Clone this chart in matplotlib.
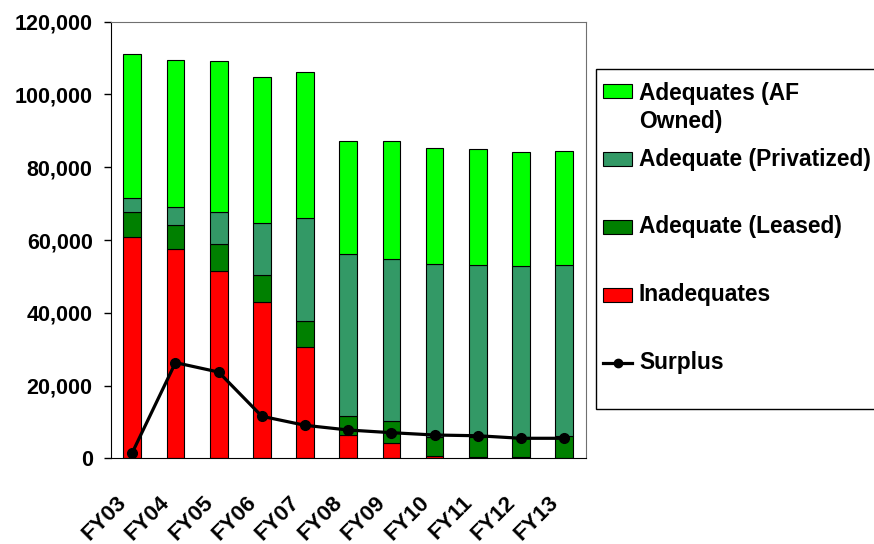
import matplotlib
matplotlib.use("Agg")
import matplotlib.pyplot as plt
import matplotlib.transforms as mtransforms
import numpy as np
from matplotlib.patches import Rectangle
from matplotlib.lines import Line2D
from matplotlib.ticker import FuncFormatter

# ---- data ----
years = ["FY03", "FY04", "FY05", "FY06", "FY07", "FY08", "FY09", "FY10", "FY11", "FY12", "FY13"]
inadequates = [60900, 57450, 51400, 43050, 30600, 6300, 4100, 500, 400, 400, 200]
adequate_leased = [6900, 6650, 7400, 7250, 7150, 5330, 6070, 5400, 5400, 5100, 5900]
adequate_privatized = [3750, 4900, 9000, 14500, 28250, 44520, 44530, 47600, 47300, 47360, 47000]
adequates_af_owned = [39550, 40600, 41500, 40100, 40100, 31150, 32600, 31700, 31800, 31240, 31300]
surplus = [1550, 26300, 23700, 11550, 9070, 7780, 7040, 6400, 6200, 5500, 5500]

labels = ["Adequates (AF\nOwned)", "Adequate (Privatized)", "Adequate (Leased)", "Inadequates", "Surplus"]
c_af = "#00FF00"
c_priv = "#339966"
c_leased = "#008000"
c_inad = "#FF0000"

plt.rcParams['font.family'] = ['Liberation Sans', 'DejaVu Sans']
plt.rcParams['font.weight'] = 'bold'

W, H = 874, 544
fig = plt.figure(figsize=(W / 100, H / 100), dpi=100)
ax = fig.add_axes([110.7 / W, 1 - 458.3 / H, (585.7 - 110.7) / W, (458.3 - 21.7) / H])

x = np.arange(len(years))
bw = 0.41
b1 = np.array(inadequates)
b2 = b1 + np.array(adequate_leased)
b3 = b2 + np.array(adequate_privatized)
ax.bar(x, inadequates, bw, color=c_inad, edgecolor="black", linewidth=0.8, zorder=2)
ax.bar(x, adequate_leased, bw, bottom=b1, color=c_leased, edgecolor="black", linewidth=0.8, zorder=2)
ax.bar(x, adequate_privatized, bw, bottom=b2, color=c_priv, edgecolor="black", linewidth=0.8, zorder=2)
ax.bar(x, adequates_af_owned, bw, bottom=b3, color=c_af, edgecolor="black", linewidth=0.8, zorder=2)
ax.plot(x, surplus, color="black", linewidth=2.3, marker="o", markersize=7, zorder=3)

ax.set_xlim(-0.5, len(years) - 0.5)
ax.set_ylim(0, 120000)
ax.set_yticks(np.arange(0, 120001, 20000))
ax.yaxis.set_major_formatter(FuncFormatter(lambda v, p: f"{int(v):,}"))
ax.tick_params(axis='y', direction='out', length=5, width=1, pad=8, labelsize=15.5)
ax.set_xticks(x)
ax.set_xticklabels(years, rotation=45, ha='right', va='center', rotation_mode='anchor',
                   fontsize=16, fontweight='bold')
ax.tick_params(axis='x', length=0, pad=29.5)
offset = mtransforms.ScaledTranslation(-6.3 / 72, 0, fig.dpi_scale_trans)
for lab in ax.get_xticklabels():
    lab.set_transform(lab.get_transform() + offset)
for t in ax.get_yticklabels():
    t.set_fontweight('bold')
ax.spines['left'].set_color('black')
ax.spines['bottom'].set_color('black')
ax.spines['top'].set_color('#707070')
ax.spines['right'].set_color('#707070')

# ---- legend (drawn manually to match layout) ----
def fx(px):
    return px / W

def fy(py):
    return 1 - py / H

fig.add_artist(Rectangle((fx(595.7), fy(409.3)), fx(880 - 595.7), (409.3 - 69.3) / H,
                         transform=fig.transFigure, facecolor='white', edgecolor='black', linewidth=1))
centers = [90.7, 159.3, 226.7, 294.7, 362.7]
colors = [c_af, c_priv, c_leased, c_inad]
for i in range(4):
    fig.add_artist(Rectangle((fx(603.3), fy(centers[i] + 7)), fx(632.3) - fx(603.3), 14 / H,
                             transform=fig.transFigure, facecolor=colors[i], edgecolor='black', linewidth=0.8))
fig.add_artist(Line2D([fx(603.3), fx(632.3)], [fy(centers[4]), fy(centers[4])], transform=fig.transFigure,
                      color='black', linewidth=2.3))
fig.add_artist(Line2D([fx(617.8)], [fy(centers[4])], transform=fig.transFigure, color='black',
                      marker='o', markersize=6))
for i, lab in enumerate(labels):
    if "\n" in lab:
        fig.text(fx(639), fy(centers[i] - 9), lab, fontsize=16.4, fontweight='bold', va='top', ha='left',
                 linespacing=1.3)
    else:
        fig.text(fx(639), fy(centers[i]), lab, fontsize=16.4, fontweight='bold', va='center', ha='left')

fig.savefig("out.png", dpi=100)
